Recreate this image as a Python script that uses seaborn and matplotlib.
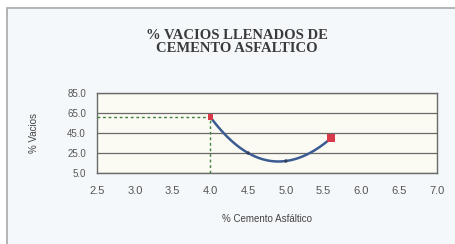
import numpy as np
import pandas as pd
import matplotlib
matplotlib.use('Agg')
import matplotlib.pyplot as plt
import seaborn as sns
from matplotlib.patches import Rectangle

# data
pct_cemento = [4.0, 4.5, 5.0, 5.6]
pct_vacios = [61.0, 25.0, 17.0, 40.0]
optimo_x = [4.0, 5.6]
optimo_y = [61.0, 40.0]
ref_x = 4.0
ref_y = 61.0

x_ticks = [2.5, 3.0, 3.5, 4.0, 4.5, 5.0, 5.5, 6.0, 6.5, 7.0]
y_ticks = [5.0, 25.0, 45.0, 65.0, 85.0]

df = pd.DataFrame({'cemento': pct_cemento, 'vacios': pct_vacios})

sns.set_style('white')
plt.rcParams['font.family'] = ['Liberation Sans', 'DejaVu Sans']

fig = plt.figure(figsize=[4.56, 2.44], dpi=100)
fig.patch.set_facecolor('white')

# chart area frame (only left and top edges are visible)
fig.add_artist(Rectangle((7/456, -0.2), 1.2, 1 - 8/244 + 0.2,
                         transform=fig.transFigure, facecolor='#f5f8fa',
                         edgecolor='#a8a8a8', linewidth=1.2, zorder=-5))

ax = fig.add_axes([97/456, 1 - 173/244, 340/456, 80/244])
ax.set_facecolor('#fbfbf3')

sns.regplot(data=df, x='cemento', y='vacios', order=3, ci=None, truncate=True,
            scatter=False, line_kws=dict(color='#3b5b92', lw=1.8), ax=ax)
sns.scatterplot(x=pct_cemento[1:3], y=pct_vacios[1:3], color='#33415c',
                s=6, edgecolor='none', ax=ax, zorder=4)
sns.scatterplot(x=optimo_x, y=optimo_y, color='#d83a4a', marker='s',
                size=[1, 2], sizes=(14, 30), legend=False,
                edgecolor='none', ax=ax, zorder=5)

# dashed guide lines to the axes
ax.plot([x_ticks[0], ref_x], [ref_y, ref_y], color='#3f7f3f', lw=1.0,
        ls=(0, (2, 2)), zorder=3)
ax.plot([ref_x, ref_x], [y_ticks[0], ref_y], color='#3f7f3f', lw=1.0,
        ls=(0, (2, 2)), zorder=3)

ax.set_xlim(x_ticks[0], x_ticks[-1])
ax.set_ylim(y_ticks[0], y_ticks[-1])
ax.set_xticks(x_ticks)
ax.set_yticks(y_ticks)
ax.set_xticklabels(['%.1f' % v for v in x_ticks])
ax.set_yticklabels(['%.1f' % v for v in y_ticks])
ax.yaxis.grid(True, color='#6a6a6a', lw=0.9)
ax.set_axisbelow(True)
for sp in ax.spines.values():
    sp.set_color('#6a6a6a')
    sp.set_linewidth(1.0)

ax.tick_params(axis='x', direction='in', length=3, colors='#6a6a6a',
               labelcolor='#555555', labelsize=8, pad=9)
ax.tick_params(axis='y', direction='out', length=3, colors='#6a6a6a',
               labelcolor='#555555', labelsize=7, pad=5)

ax.set_xlabel('% Cemento Asfáltico', fontsize=7, color='#444444', labelpad=13)
ax.set_ylabel('% Vacios', fontsize=7, color='#444444', labelpad=20)

fig.text(237/456, 1 - 42/244, '% VACIOS LLENADOS DE\nCEMENTO ASFALTICO',
         ha='center', va='center', fontsize=10.5, fontweight='bold',
         family=['Liberation Serif', 'DejaVu Serif'], color='#3a3a3a',
         linespacing=1.05)

fig.savefig('out.png', dpi=100)
